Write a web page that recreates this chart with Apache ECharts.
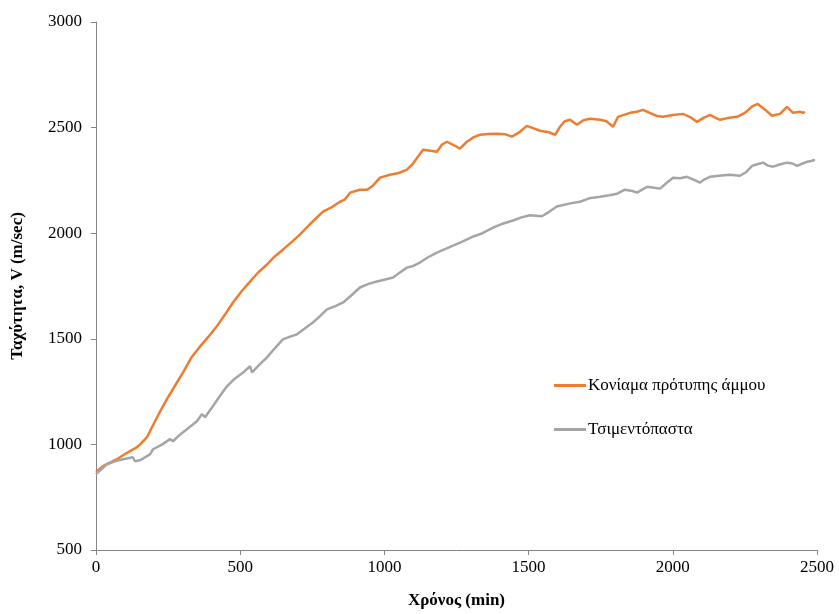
<!DOCTYPE html>
<html>
<head>
<meta charset="utf-8">
<script src="https://cdn.jsdelivr.net/npm/echarts@6/dist/echarts.min.js"></script>
<style>
  html, body { margin: 0; padding: 0; background: #fff; }
  #chart { width: 839px; height: 614px; }
</style>
</head>
<body>
<div id="chart"></div>
<script>
// Κονίαμα πρότυπης άμμου: [χρόνος (min), ταχύτητα (m/sec)]
const mortar = [
  [0, 870], [24, 897], [50, 915], [73, 930], [95, 950], [118, 968], [140, 985], [153, 1000],
  [177, 1034], [194, 1081], [220, 1150], [246, 1214], [275, 1280], [302, 1341], [330, 1410],
  [361, 1464], [390, 1510], [419, 1559], [445, 1610], [475, 1672], [505, 1725], [534, 1771],
  [563, 1815], [593, 1852], [620, 1890], [648, 1922], [680, 1960], [707, 1993], [740, 2040],
  [787, 2102], [820, 2125], [846, 2149], [863, 2159], [881, 2192], [915, 2206], [940, 2206],
  [960, 2225], [985, 2263], [1019, 2277], [1050, 2285], [1078, 2301], [1096, 2324], [1115, 2360],
  [1134, 2395], [1160, 2390], [1182, 2386], [1200, 2420], [1217, 2433], [1245, 2414], [1262, 2400],
  [1286, 2433], [1310, 2455], [1331, 2466], [1360, 2470], [1390, 2471], [1420, 2468], [1442, 2457],
  [1470, 2480], [1494, 2508], [1520, 2495], [1540, 2485], [1570, 2478], [1592, 2466], [1609, 2504],
  [1625, 2530], [1644, 2537], [1668, 2513], [1690, 2535], [1713, 2542], [1748, 2537], [1770, 2530],
  [1793, 2504], [1810, 2551], [1830, 2560], [1852, 2570], [1875, 2575], [1897, 2584], [1920, 2570],
  [1945, 2555], [1966, 2551], [2000, 2560], [2035, 2565], [2060, 2550], [2084, 2527], [2105, 2545],
  [2129, 2560], [2150, 2545], [2164, 2537], [2190, 2545], [2223, 2551], [2250, 2570], [2275, 2600],
  [2295, 2612], [2320, 2585], [2344, 2556], [2372, 2565], [2396, 2598], [2417, 2570], [2441, 2575],
  [2452, 2570], [2458, 2575]
];

// Τσιμεντόπαστα
const paste = [
  [0, 859], [5, 868], [38, 906], [65, 920], [94, 930], [128, 939], [135, 920], [153, 925],
  [187, 953], [198, 977], [230, 1000], [257, 1025], [267, 1015], [290, 1045], [315, 1072],
  [350, 1110], [367, 1143], [378, 1129], [410, 1190], [430, 1230], [454, 1275], [480, 1310],
  [510, 1340], [534, 1370], [541, 1341], [565, 1375], [593, 1412], [620, 1455], [648, 1497],
  [673, 1510], [697, 1521], [725, 1550], [752, 1577], [775, 1605], [801, 1639], [830, 1655],
  [857, 1672], [885, 1705], [915, 1743], [945, 1760], [974, 1771], [1000, 1780], [1030, 1790],
  [1055, 1815], [1078, 1837], [1100, 1845], [1123, 1861], [1150, 1885], [1182, 1908], [1210, 1925],
  [1238, 1941], [1270, 1960], [1307, 1984], [1340, 2000], [1377, 2026], [1410, 2045], [1446, 2060],
  [1475, 2075], [1505, 2085], [1546, 2080], [1570, 2100], [1598, 2126], [1640, 2140], [1678, 2149],
  [1710, 2165], [1748, 2173], [1780, 2180], [1807, 2187], [1834, 2206], [1860, 2200], [1876, 2192],
  [1911, 2220], [1935, 2215], [1956, 2211], [1980, 2240], [2001, 2263], [2025, 2260], [2049, 2267],
  [2070, 2255], [2094, 2239], [2110, 2255], [2129, 2267], [2160, 2272], [2198, 2277], [2233, 2272],
  [2255, 2290], [2275, 2319], [2290, 2325], [2313, 2334], [2330, 2320], [2348, 2315], [2370, 2325],
  [2396, 2334], [2415, 2330], [2431, 2319], [2450, 2330], [2465, 2338], [2480, 2342], [2493, 2348]
];

const seriesNames = ["Κονίαμα πρότυπης άμμου", "Τσιμεντόπαστα"];
const xRange = [0, 2500];
const yRange = [500, 3000];

const font = "'Liberation Serif', 'Times New Roman', serif";
const axisGray = "#868686";

const chart = echarts.init(document.getElementById("chart"));

chart.setOption({
  backgroundColor: "#fff",
  animation: false,
  textStyle: { fontFamily: font },
  grid: { left: 96, right: 22, top: 22, bottom: 63 },
  legend: {
    orient: "vertical",
    left: 549,
    top: 372,
    itemGap: 27,
    itemWidth: 32,
    itemHeight: 3,
    icon: "rect",
    textStyle: { fontFamily: font, fontSize: 17, color: "#000", padding: [0, 0, 0, -3] },
    data: seriesNames
  },
  xAxis: {
    type: "value",
    min: xRange[0],
    max: xRange[1],
    interval: 500,
    name: "Χρόνος (min)",
    nameLocation: "middle",
    nameGap: 42,
    nameTextStyle: { fontFamily: font, fontSize: 17, fontWeight: "bold", color: "#000" },
    axisLine: { lineStyle: { color: axisGray } },
    axisTick: { show: true, length: 5, lineStyle: { color: axisGray } },
    axisLabel: { fontFamily: font, fontSize: 17, color: "#000", margin: 9, formatter: v => String(v) },
    splitLine: { show: false }
  },
  yAxis: {
    type: "value",
    min: yRange[0],
    max: yRange[1],
    interval: 500,
    name: "Ταχύτητα, V (m/sec)",
    nameLocation: "middle",
    nameGap: 70,
    nameRotate: 90,
    nameTextStyle: { fontFamily: font, fontSize: 17, fontWeight: "bold", color: "#000" },
    axisLine: { show: true, lineStyle: { color: axisGray } },
    axisTick: { show: true, length: 5, lineStyle: { color: axisGray } },
    axisLabel: { fontFamily: font, fontSize: 17, color: "#000", margin: 14, formatter: v => String(v) },
    splitLine: { show: false }
  },
  series: [
    {
      name: seriesNames[0],
      type: "line",
      data: mortar,
      showSymbol: false,
      symbol: "none",
      color: "#ED7D31",
      lineStyle: { width: 2.5, color: "#ED7D31" }
    },
    {
      name: seriesNames[1],
      type: "line",
      data: paste,
      showSymbol: false,
      symbol: "none",
      color: "#A5A5A5",
      lineStyle: { width: 2.5, color: "#A5A5A5" }
    }
  ]
});
</script>
</body>
</html>
